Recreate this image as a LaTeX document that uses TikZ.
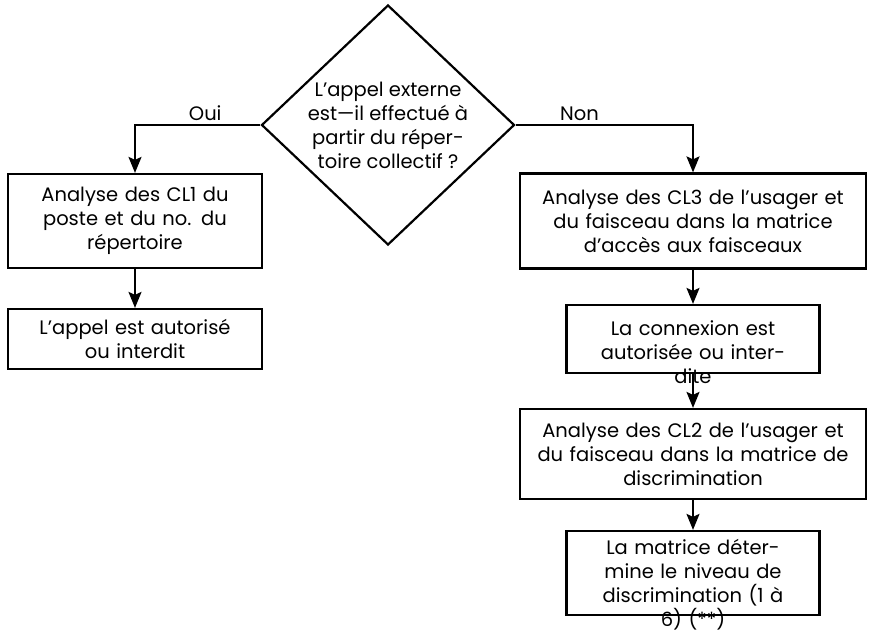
\documentclass[tikz,border=0pt]{standalone}
\usepackage{fontspec}
\setmainfont{Poppins}
\usetikzlibrary{shapes.geometric,arrows.meta,trees}

\begin{document}
\begin{tikzpicture}[x=1pt, y=1pt, every text node part/.style={align=center}, font=\fontsize{19.5pt}{24pt}\selectfont,
level 1/.style={level distance=96pt, sibling distance=558pt},
level 2/.style={level distance=118pt, edge from parent path={(\tikzparentnode.south) -- (\tikzchildnode.north)}},
level 3/.style={level distance=115pt, edge from parent path={(\tikzparentnode.south) -- (\tikzchildnode.north)}},
level 4/.style={level distance=119pt, edge from parent path={(\tikzparentnode.south) -- (\tikzchildnode.north)}},
edge from parent/.style={draw, line width=2pt, -{Stealth[length=16pt,width=13pt,inset=3pt]}},
decision/.style={draw, diamond, aspect=1.054, minimum width=253pt, minimum height=240pt, inner sep=-8pt, line width=2.2pt},
stepbox/.style={draw, rectangle, line width=2.2pt, inner sep=4pt}]
\useasboundingbox (0,0) rectangle (873,-639);
\node [decision] (question) at (388,-125) {L'appel externe\\est—il effectué à\\partir du réper-\\toire collectif ?}
child[xshift=26pt, edge from parent path={(\tikzparentnode.west) -| (\tikzchildnode.north)}] { node [stepbox, text width=246pt, minimum height=94pt] (cl1) {Analyse des CL1 du\\poste et du no. du\\répertoire}
	child { node [stepbox, text width=246pt, minimum height=60pt] (appel) {L'appel est autorisé\\ou interdit}}
	edge from parent node[pos=0.22, above, inner sep=3pt] {Oui}
}
child[xshift=26pt, edge from parent path={(\tikzparentnode.east) -| (\tikzchildnode.north)}] { node [stepbox, text width=338pt, minimum height=95pt] (cl3) {Analyse des CL3 de l'usager et\\du faisceau dans la matrice\\d'accès aux faisceaux}
	child { node [stepbox, text width=245pt, text height=26pt, text depth=34pt] (connexion) {La connexion est\\autorisée ou inter-\\dite}
		child { node [stepbox, text width=338pt, minimum height=90pt] (cl2) {Analyse des CL2 de l'usager et\\du faisceau dans la matrice de\\discrimination}
			child { node [stepbox, text width=245pt, text height=19.5pt, text depth=56.5pt] (niveau) {La matrice déter-\\mine le niveau de\\discrimination (1 à\\6) (**)}}}}
	edge from parent node[pos=0.18, above, inner sep=3pt] {Non}
};

\end{tikzpicture}
\end{document}
